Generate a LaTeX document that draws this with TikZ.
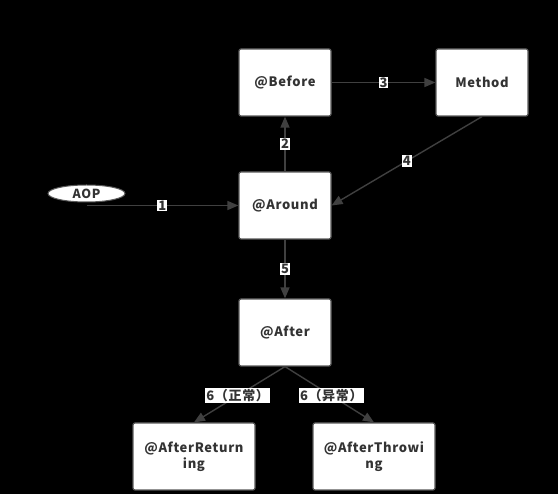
\documentclass[tikz,border=0pt]{standalone}
\usepackage{fontspec}
\setmainfont{Noto Sans CJK SC}[LetterSpace=5]
\usetikzlibrary{arrows.meta,shapes.geometric}
\definecolor{edgecol}{HTML}{404040}
\definecolor{txtcol}{HTML}{333333}
\definecolor{boxborder}{HTML}{5A5A5A}
\begin{document}
\begin{tikzpicture}[x=1pt,y=-1pt,
  box/.style={draw=boxborder,line width=1.2pt,fill=white,rounded corners=2pt,
    minimum width=92pt,minimum height=67pt,inner sep=2pt,align=center,
    text=txtcol,font=\fontsize{13}{16}\selectfont\bfseries},
  wbox/.style={box,minimum width=122pt,text width=114pt},
  oval/.style={ellipse,draw=boxborder,line width=1pt,fill=white,minimum width=77pt,
    minimum height=17pt,inner sep=0pt,text=txtcol,font=\fontsize{12.5}{14}\selectfont\bfseries},
  conn/.style={draw=edgecol,line width=1.4pt,-{Triangle[length=11pt,width=9pt]}},
  lbl/.style={fill=white,text=txtcol,inner sep=1pt,font=\fontsize{13}{15}\selectfont\bfseries}]
\fill[black] (0,0) rectangle (558,494);
\useasboundingbox (0,0) rectangle (558,494);
\node[box] (before) at (285,82.5) {@Before};
\node[box] (method) at (482,82.5) {Method};
\node[box] (around) at (285,205.5) {@Around};
\node[oval] (aop) at (86.5,193.5) {AOP};
\node[box] (after) at (285,332.5) {@After};
\node[wbox] (ret) at (194,456.5) {@AfterReturn\\ing};
\node[wbox] (thr) at (374,456.5) {@AfterThrowi\\ng};
\path[conn] (aop.south |- around.west) -- node[lbl,pos=0.5]{1} (around.west);
\path[conn] (around.north) -- node[lbl,pos=0.5]{2} (before.south);
\path[conn] (before.east) -- node[lbl,pos=0.5]{3} (method.east -| method.west);
\path[conn] (method.south) -- node[lbl,pos=0.5]{4} (around.east);
\path[conn] (around.south) -- node[lbl,pos=0.5]{5} (after.north);
\path[conn] (after.south) -- node[lbl,pos=0.52]{6（正常）} (ret.north);
\path[conn] (after.south) -- node[lbl,pos=0.52]{6（异常）} (thr.north);
\end{tikzpicture}
\end{document}
